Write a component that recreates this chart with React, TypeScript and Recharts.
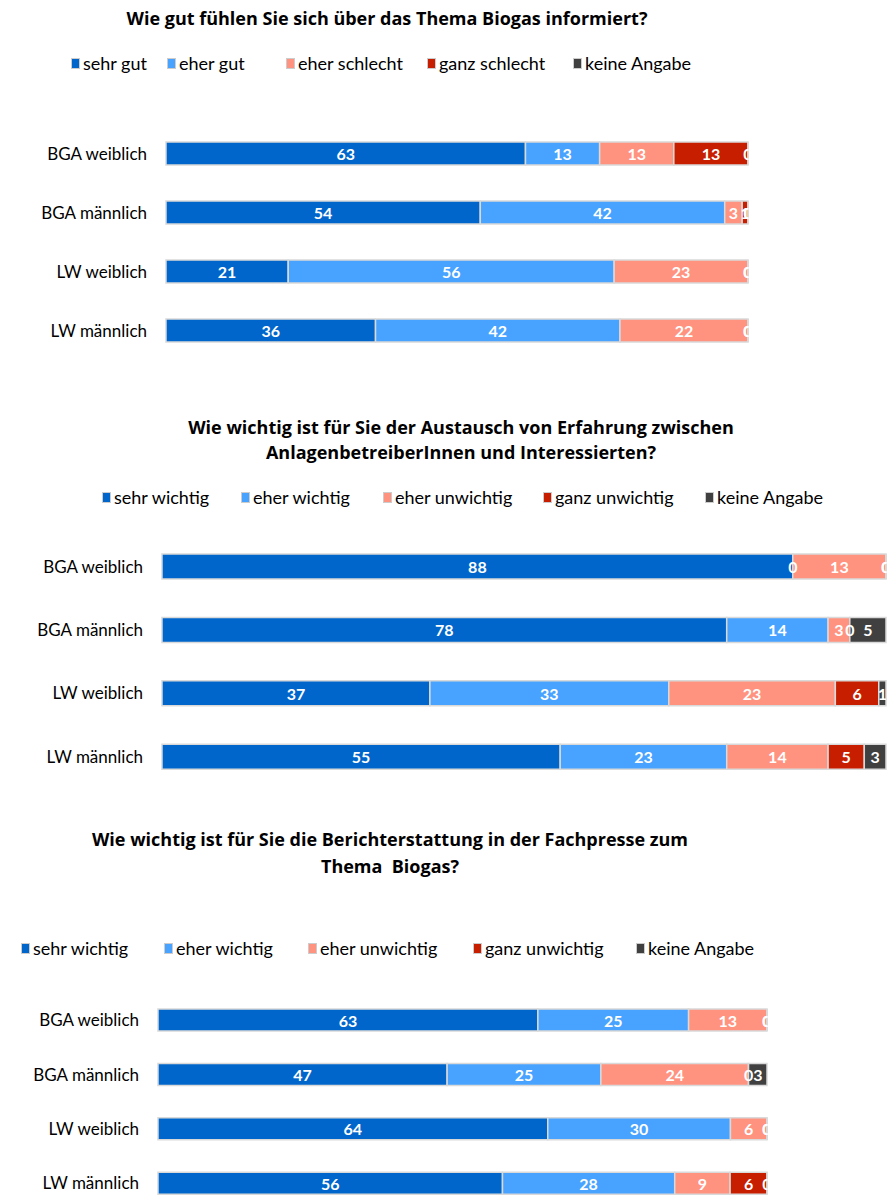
import { Bar, BarChart, LabelList, XAxis, YAxis } from 'recharts';

const groups = ['BGA weiblich', 'BGA männlich', 'LW weiblich', 'LW männlich'];

const colors = ['#0066CC', '#47A3FF', '#FF9380', '#C81E00', '#404040'];

// Frage 1
const names1 = ['sehr gut', 'eher gut', 'eher schlecht', 'ganz schlecht', 'keine Angabe'];
const sehrGut = [63, 54, 21, 36];
const eherGut = [13, 42, 56, 42];
const eherSchlecht = [13, 3, 23, 22];
const ganzSchlecht = [13, 1, 0, 0];
const keineAngabe1 = [0, 0, 0, 0];

// Frage 2
const names2 = ['sehr wichtig', 'eher wichtig', 'eher unwichtig', 'ganz unwichtig', 'keine Angabe'];
const sehrWichtig2 = [88, 78, 37, 55];
const eherWichtig2 = [0, 14, 33, 23];
const eherUnwichtig2 = [13, 3, 23, 14];
const ganzUnwichtig2 = [0, 0, 6, 5];
const keineAngabe2 = [0, 5, 1, 3];

// Frage 3
const sehrWichtig3 = [63, 47, 64, 56];
const eherWichtig3 = [25, 25, 30, 28];
const eherUnwichtig3 = [13, 24, 6, 9];
const ganzUnwichtig3 = [0, 0, 0, 6];
const keineAngabe3 = [0, 3, 0, 0];

const keys = ['s0', 's1', 's2', 's3', 's4'];

function buildRows(series: number[][]) {
  return groups.map((g, i) => {
    const row: Record<string, string | number> = { name: g };
    series.forEach((s, k) => {
      row[keys[k]] = s[i];
    });
    return row;
  });
}

const data1 = buildRows([sehrGut, eherGut, eherSchlecht, ganzSchlecht, keineAngabe1]);
const data2 = buildRows([sehrWichtig2, eherWichtig2, eherUnwichtig2, ganzUnwichtig2, keineAngabe2]);
const data3 = buildRows([sehrWichtig3, eherWichtig3, eherUnwichtig3, ganzUnwichtig3, keineAngabe3]);

const font = 'Lato, "Open Sans", sans-serif';
const titleFont = '"Open Sans", Lato, sans-serif';

let clipCount = 0;

// white value label, cut off at the right edge of the plot like the original
function makeLabel(clipRight: number) {
  return (props: any) => {
    const { x, y, width, height, value } = props;
    if (value === undefined || value === null) return null;
    const cx = Number(x) + Number(width) / 2;
    const cy = Number(y) + Number(height) / 2;
    const id = 'lblclip' + clipCount++;
    return (
      <g>
        <defs>
          <clipPath id={id}>
            <rect x={0} y={cy - 20} width={clipRight} height={40} />
          </clipPath>
        </defs>
        <text
          x={cx}
          y={cy}
          textAnchor='middle'
          dominantBaseline='central'
          fill='#fff'
          fontSize={16}
          fontWeight={700}
          fontFamily={font}
          clipPath={`url(#${id})`}
        >
          {value}
        </text>
      </g>
    );
  };
}

function StackChart({ data, top, height, axisWidth, right, barSize }: any) {
  const label = makeLabel(889 - right + 0.5);
  return (
    <div style={{ position: 'absolute', left: 0, top }}>
      <BarChart
        width={889}
        height={height}
        data={data}
        layout='vertical'
        stackOffset='expand'
        margin={{ top: 0, right, bottom: 0, left: 0 }}
        style={{ overflow: 'visible' }}
      >
        <XAxis type='number' hide domain={[0, 1]} />
        <YAxis
          type='category'
          dataKey='name'
          width={axisWidth}
          axisLine={false}
          tickLine={false}
          tickSize={0}
          tickMargin={19}
          tick={{ fill: '#000', fontSize: 17, fontFamily: font }}
        />
        {keys.map((k, i) => (
          <Bar
            key={k}
            // zero answers keep a hair-thin segment so their "0" label is still drawn
            dataKey={(row: any) => row[k] || 1e-6}
            name={k}
            stackId='a'
            fill={colors[i]}
            stroke='#D9D9D9'
            strokeWidth={1.5}
            barSize={barSize}
            isAnimationActive={false}
          >
            <LabelList dataKey={k} content={label} />
          </Bar>
        ))}
      </BarChart>
    </div>
  );
}

function Legend({ names, top, xs }: { names: string[]; top: number; xs: number[] }) {
  return (
    <>
      {names.map((n, i) => (
        <div
          key={n}
          style={{
            position: 'absolute',
            left: xs[i],
            top: top - 12,
            display: 'flex',
            alignItems: 'center',
            fontFamily: font,
            fontSize: 18,
            lineHeight: '24px',
            color: '#000',
            whiteSpace: 'nowrap'
          }}
        >
          <span
            style={{
              display: 'inline-block',
              width: 7,
              height: 9,
              background: colors[i],
              border: '1px solid #ccc',
              marginRight: 3
            }}
          />
          {n}
        </div>
      ))}
    </>
  );
}

function Title({ lines, center, top, gap }: { lines: string[]; center: number; top: number; gap: number }) {
  return (
    <>
      {lines.map((l, i) => (
        <div
          key={l}
          style={{
            position: 'absolute',
            left: center - 400,
            width: 800,
            top: top + i * gap - 13,
            textAlign: 'center',
            fontFamily: titleFont,
            fontWeight: 700,
            fontSize: 18,
            lineHeight: '26px',
            color: '#000',
            whiteSpace: 'pre'
          }}
        >
          {l}
        </div>
      ))}
    </>
  );
}

function App() {
  return (
    <div
      style={{
        position: 'absolute',
        left: 0,
        top: 0,
        width: 889,
        height: 1196,
        background: '#fff',
        overflow: 'hidden'
      }}
    >
      <Title lines={['Wie gut fühlen Sie sich über das Thema Biogas informiert?']} center={387} top={18} gap={0} />
      <Legend names={names1} top={63} xs={[71, 167, 286, 427, 573]} />
      <StackChart data={data1} top={123.5} height={236} axisWidth={166} right={141} barSize={23} />

      <Title
        lines={[
          'Wie wichtig ist für Sie der Austausch von Erfahrung zwischen',
          'AnlagenbetreiberInnen und Interessierten?'
        ]}
        center={461}
        top={427}
        gap={25}
      />
      <Legend names={names2} top={497} xs={[102, 241, 383, 543, 705]} />
      <StackChart data={data2} top={534.5} height={253.5} axisWidth={162} right={3} barSize={25} />

      <Title
        lines={['Wie wichtig ist für Sie die Berichterstattung in der Fachpresse zum', 'Thema  Biogas?']}
        center={390}
        top={839}
        gap={27}
      />
      <Legend names={names2} top={948} xs={[21, 164, 308, 473, 636]} />
      <StackChart data={data3} top={993} height={217.5} axisWidth={158} right={122} barSize={22} />
    </div>
  );
}

export default App;
